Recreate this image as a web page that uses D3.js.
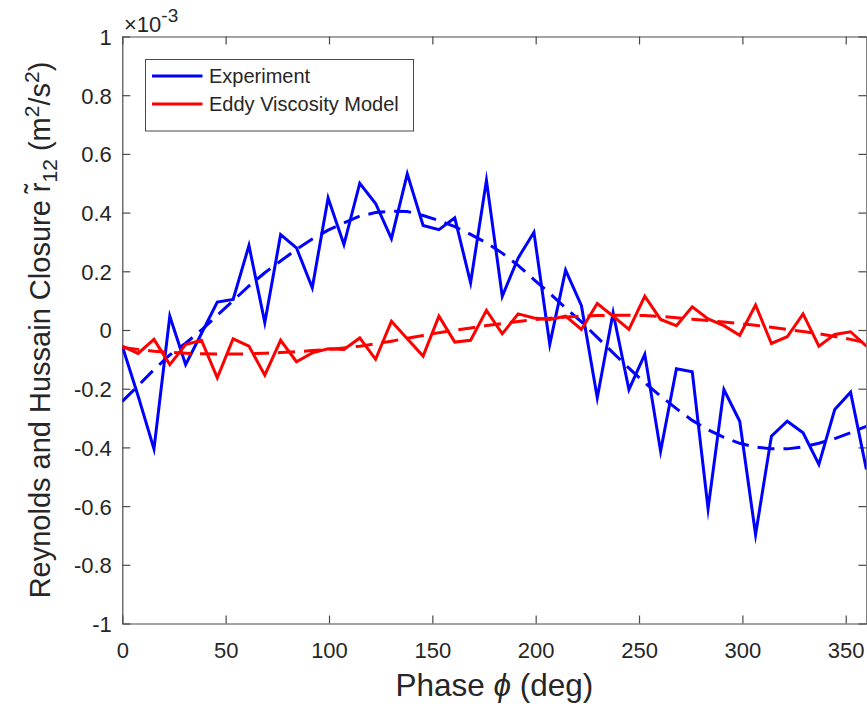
<!DOCTYPE html>
<html><head><meta charset="utf-8">
<script src="https://cdn.jsdelivr.net/npm/d3@7"></script>
<style>body{margin:0;background:#fff}svg{display:block}text{font-family:"Liberation Sans",Arial,sans-serif}</style>
</head><body><svg id="c" width="867" height="706"></svg>
<script>
const phase = [0,7.66,15.32,22.98,30.64,38.30,45.96,53.62,61.28,68.94,76.60,84.26,91.91,99.57,107.23,114.89,122.55,130.21,137.87,145.53,153.19,160.85,168.51,176.17,183.83,191.49,199.15,206.81,214.47,222.13,229.79,237.45,245.11,252.77,260.43,268.09,275.74,283.40,291.06,298.72,306.38,314.04,321.70,329.36,337.02,344.68,352.34,360];
const experiment = [-0.055,-0.225,-0.405,0.047,-0.118,-0.012,0.095,0.104,0.288,0.025,0.325,0.28,0.144,0.45,0.291,0.50,0.431,0.311,0.532,0.356,0.342,0.382,0.161,0.51,0.115,0.245,0.333,-0.049,0.204,0.083,-0.231,0.059,-0.203,-0.083,-0.413,-0.132,-0.142,-0.609,-0.203,-0.311,-0.697,-0.362,-0.311,-0.35,-0.458,-0.271,-0.212,-0.475];
const experimentFit = [-0.243,-0.19,-0.135,-0.085,-0.045,0.0,0.05,0.10,0.15,0.195,0.235,0.275,0.31,0.34,0.365,0.388,0.40,0.405,0.404,0.39,0.373,0.352,0.326,0.297,0.262,0.22,0.172,0.125,0.075,0.028,-0.025,-0.078,-0.13,-0.18,-0.225,-0.268,-0.308,-0.34,-0.366,-0.386,-0.399,-0.405,-0.405,-0.398,-0.386,-0.37,-0.35,-0.328];
const eddyModel = [-0.055,-0.08,-0.032,-0.118,-0.05,-0.035,-0.163,-0.03,-0.055,-0.154,-0.035,-0.108,-0.078,-0.064,-0.066,-0.027,-0.10,0.03,-0.03,-0.089,0.047,-0.041,-0.035,0.067,-0.013,0.055,0.041,0.036,0.047,0.002,0.09,0.047,0.002,0.115,0.036,0.015,0.079,0.038,0.015,-0.018,0.085,-0.046,-0.023,0.055,-0.055,-0.015,-0.006,-0.055];
const eddyFit = [-0.06,-0.066,-0.072,-0.076,-0.079,-0.081,-0.082,-0.082,-0.081,-0.079,-0.077,-0.074,-0.07,-0.066,-0.061,-0.055,-0.047,-0.038,-0.028,-0.019,-0.009,-0.001,0.007,0.015,0.022,0.029,0.035,0.04,0.044,0.047,0.049,0.05,0.05,0.049,0.046,0.042,0.037,0.032,0.027,0.022,0.016,0.009,0.002,-0.005,-0.013,-0.022,-0.032,-0.044];
const xTicks = [0,50,100,150,200,250,300,350];
const yTicks = [-1,-0.8,-0.6,-0.4,-0.2,0,0.2,0.4,0.6,0.8,1];
const legendLabels = ["Experiment","Eddy Viscosity Model"];
const colors = ["#0000ff","#ff0000"];

const L=122.3,R=866.4,T=36.5,B=623.5;
const svg=d3.select("#c");
const x=d3.scaleLinear().domain([0,360]).range([L,R]);
const y=d3.scaleLinear().domain([-1,1]).range([B,T]);
const axisCol="#4a4a4a", textCol="#262626";

svg.append("defs").append("clipPath").attr("id","clip").append("rect")
  .attr("x",L).attr("y",T).attr("width",R-L).attr("height",B-T);

// axes with inward ticks
const tl=8;
const gx=svg.append("g").attr("transform",`translate(0,${B})`)
  .call(d3.axisBottom(x).tickValues(xTicks).tickSizeInner(-tl).tickSizeOuter(0).tickPadding(34.5).tickFormat(d3.format("d")));
const gxt=svg.append("g").attr("transform",`translate(0,${T})`)
  .call(d3.axisTop(x).tickValues(xTicks).tickSizeInner(-tl).tickSizeOuter(0).tickFormat(""));
const gy=svg.append("g").attr("transform",`translate(${L},0)`)
  .call(d3.axisLeft(y).tickValues(yTicks).tickSizeInner(-tl).tickSizeOuter(0).tickPadding(10.5).tickFormat(d=>String(+d.toFixed(1))));
const gyr=svg.append("g").attr("transform",`translate(${R},0)`)
  .call(d3.axisRight(y).tickValues(yTicks).tickSizeInner(-tl).tickSizeOuter(0).tickFormat(""));
[gx,gxt,gy,gyr].forEach(g=>{
  g.selectAll("path.domain").attr("stroke",axisCol).attr("stroke-width",1.2);
  g.selectAll(".tick line").attr("stroke",axisCol).attr("stroke-width",1.2);
  g.selectAll(".tick text").attr("fill",textCol).style("font-size","22px").style("font-family",'"Liberation Sans",Arial,sans-serif');
});
gy.selectAll(".tick text").attr("dy","0.36em");
gx.selectAll(".tick text").attr("dy","0");

// exponent
const ex=svg.append("text").attr("x",124).attr("y",32).attr("fill",textCol).style("font-size","22px");
ex.append("tspan").text("\u00d710");
ex.append("tspan").attr("dy",-10).style("font-size","19px").text("-3");

// lines
const plot=svg.append("g").attr("clip-path","url(#clip)");
const line=vals=>d3.line().x((d,i)=>x(phase[i])).y(d=>y(d))(vals);
const series=[
  {v:experiment,c:colors[0],dash:null},
  {v:experimentFit,c:colors[0],dash:"17,9"},
  {v:eddyModel,c:colors[1],dash:null},
  {v:eddyFit,c:colors[1],dash:"17,9"}
];
series.forEach(s=>{
  plot.append("path").attr("d",line(s.v)).attr("fill","none").attr("stroke",s.c)
    .attr("stroke-width",3).attr("stroke-linejoin","miter").attr("stroke-miterlimit",10)
    .attr("stroke-dasharray",s.dash);
});

// legend
const lg=svg.append("g");
lg.append("rect").attr("x",145.5).attr("y",59.5).attr("width",268).attr("height",71.5)
  .attr("fill","#fff").attr("stroke",axisCol).attr("stroke-width",1);
legendLabels.forEach((t,i)=>{
  const yy=76+i*28;
  lg.append("line").attr("x1",152).attr("x2",202.5).attr("y1",yy).attr("y2",yy).attr("stroke",colors[i]).attr("stroke-width",3);
  lg.append("text").attr("x",209).attr("y",yy).attr("dy","0.36em").attr("fill",textCol).style("font-size","20px").text(t);
});

// axis labels
svg.append("text").attr("x",(L+R)/2).attr("y",696).attr("text-anchor","middle").attr("fill",textCol)
  .style("font-size","31.5px")
  .call(t=>{t.append("tspan").text("Phase ");t.append("tspan").style("font-style","italic").text("\u03d5");t.append("tspan").text(" (deg)");});

const yl=svg.append("text").attr("transform",`translate(50,${(T+B)/2}) rotate(-90)`).attr("text-anchor","middle").attr("fill",textCol)
  .style("font-size","29px");
yl.append("tspan").text("Reynolds and Hussain Closure r\u0303");
yl.append("tspan").attr("dy",7).style("font-size","21px").text("12");
yl.append("tspan").attr("dy",-7).text(" (m");
yl.append("tspan").attr("dy",-11).style("font-size","21px").text("2");
yl.append("tspan").attr("dy",11).text("/s");
yl.append("tspan").attr("dy",-11).style("font-size","21px").text("2");
yl.append("tspan").attr("dy",11).text(")");
</script></body></html>
